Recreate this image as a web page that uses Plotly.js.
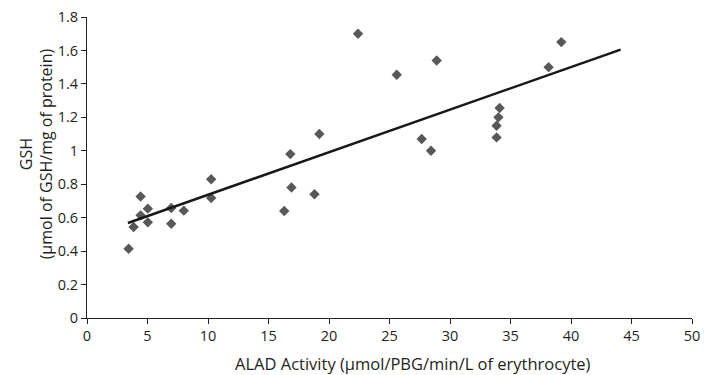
<!DOCTYPE html>
<html>
<head>
<meta charset="utf-8">
<script src="https://cdn.plot.ly/plotly-3.0.1.min.js"></script>
<style>html,body{margin:0;padding:0;background:#fff;}#chart{width:704px;height:375px;}</style>
</head>
<body>
<div id="chart"></div>
<script>
const aladActivity = [3.44, 3.85, 4.43, 4.43, 5.03, 5.03, 6.96, 6.96, 8.0, 10.26, 10.26,
  16.3, 16.8, 16.9, 18.8, 19.2, 22.4, 25.6, 27.66, 28.43, 28.9,
  34.1, 34.0, 33.85, 33.85, 38.15, 39.2];
const gshLevel = [0.414, 0.544, 0.727, 0.614, 0.654, 0.572, 0.658, 0.564, 0.642, 0.83, 0.718,
  0.64, 0.98, 0.78, 0.74, 1.10, 1.70, 1.455, 1.07, 1.00, 1.54,
  1.256, 1.20, 1.15, 1.08, 1.50, 1.65];
const trendX = [3.38, 44.1];
const trendY = [0.568, 1.605];
const xTicks = [0, 5, 10, 15, 20, 25, 30, 35, 40, 45, 50];
const yTicks = [0, 0.2, 0.4, 0.6, 0.8, 1, 1.2, 1.4, 1.6, 1.8];
const xTitle = 'ALAD Activity (µmol/PBG/min/L of erythrocyte)';
const yTitle = 'GSH<br>(µmol of GSH/mg of protein)';

const font = 'Open Sans, Noto Sans, sans-serif';
const data = [
  {x: aladActivity, y: gshLevel, type: 'scatter', mode: 'markers',
   marker: {symbol: 'diamond', size: 8, color: '#58585a'}, hoverinfo: 'x+y'},
  {x: trendX, y: trendY, type: 'scatter', mode: 'lines',
   line: {color: '#1a1718', width: 2.5}}
];
const layout = {
  width: 704, height: 375,
  margin: {l: 87, r: 12, t: 17, b: 57},
  showlegend: false,
  paper_bgcolor: '#fff', plot_bgcolor: '#fff',
  font: {family: font, size: 14.5, color: '#231f20'},
  xaxis: {
    range: [0, 50], tickvals: xTicks, ticktext: xTicks.map(String),
    showgrid: false, zeroline: false, showline: true, linecolor: '#231f20', linewidth: 1,
    ticks: 'outside', ticklen: 5, tickcolor: '#231f20'
  },
  yaxis: {
    range: [0, 1.8], tickvals: yTicks, ticktext: yTicks.map(String),
    showgrid: false, zeroline: false, showline: true, linecolor: '#231f20', linewidth: 1,
    ticks: 'outside', ticklen: 5, tickcolor: '#231f20'
  },
  annotations: [
    {text: xTitle, xref: 'paper', yref: 'paper', x: 0.539, y: -0.152,
     xanchor: 'center', yanchor: 'middle', showarrow: false, font: {size: 16.5}},
    {text: yTitle, xref: 'paper', yref: 'paper', x: -0.0843, y: 0.547, textangle: -90,
     xanchor: 'center', yanchor: 'middle', showarrow: false, font: {size: 16}}
  ]
};
Plotly.newPlot('chart', data, layout, {displayModeBar: false, staticPlot: true});
</script>
</body>
</html>
